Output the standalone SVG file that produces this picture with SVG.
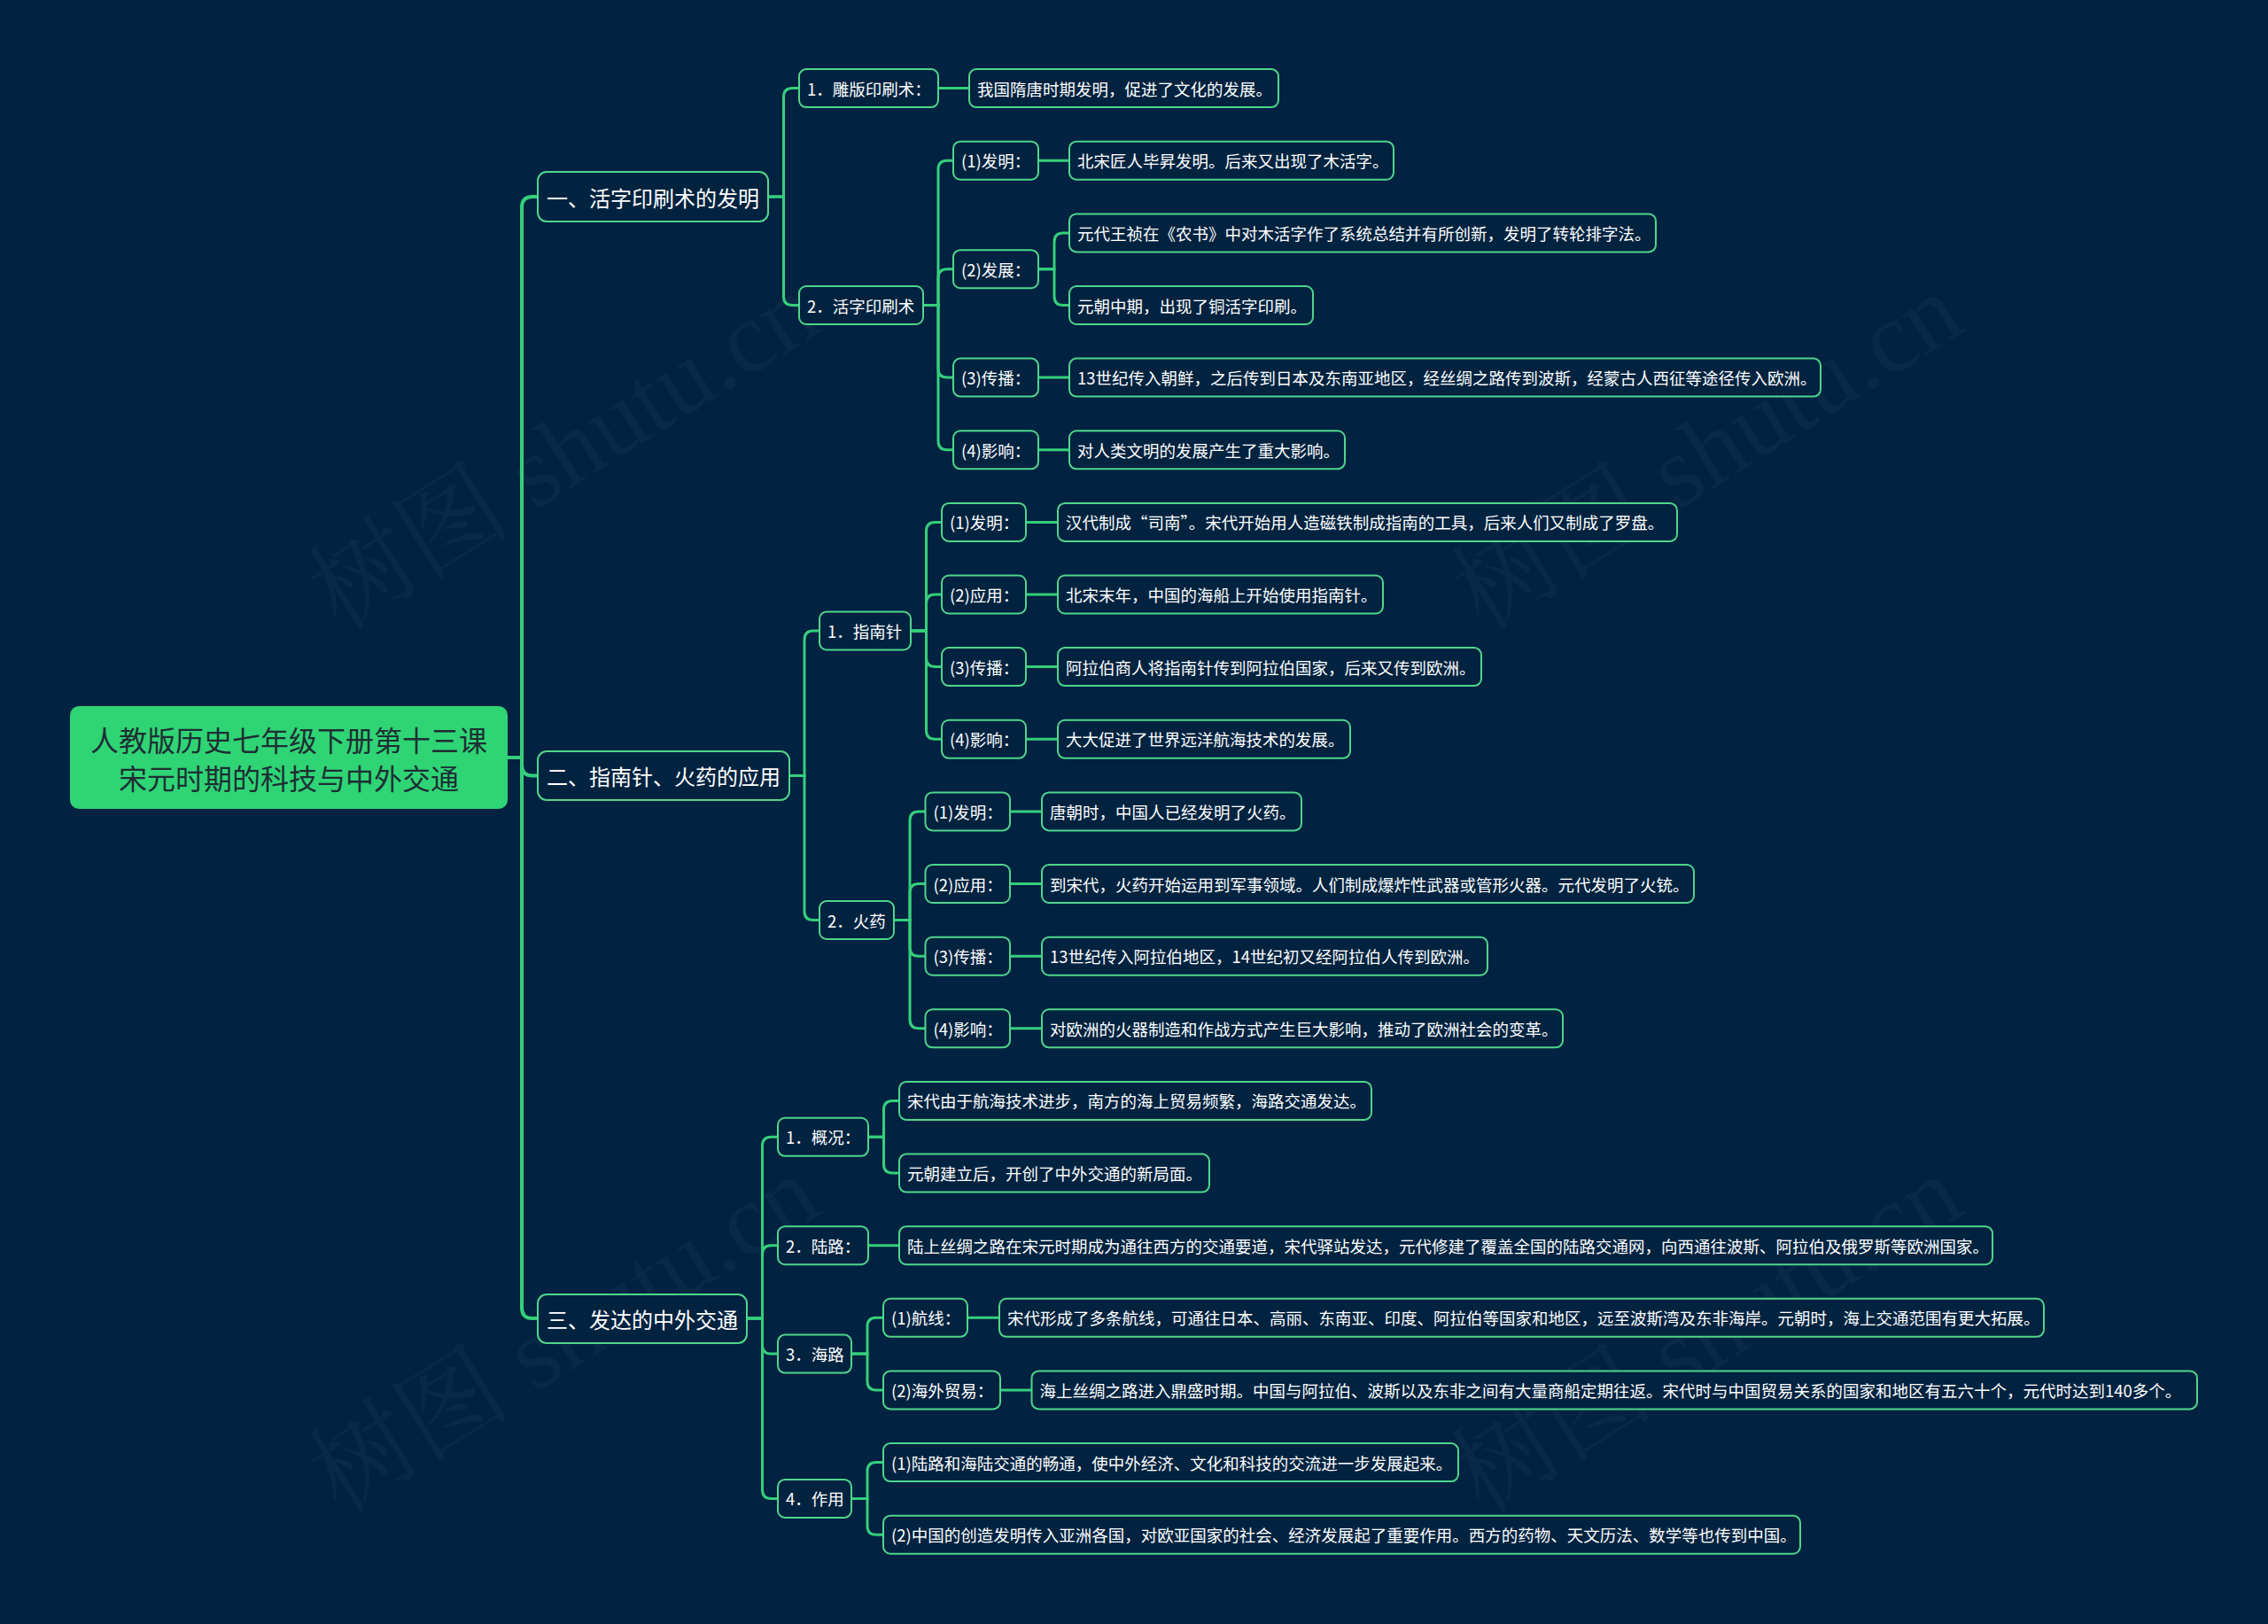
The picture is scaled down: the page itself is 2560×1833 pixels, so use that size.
<svg xmlns="http://www.w3.org/2000/svg" width="2560" height="1833" viewBox="0 0 2560 1833">
<style>
.bg{fill:#012240}
.wm{font-family:"Liberation Serif","Noto Serif CJK SC","Noto Sans CJK SC",serif;font-size:115px;fill:#ffffff;fill-opacity:0.035}
.root rect{fill:#2fd475;stroke:none}
.root text{font-family:"Noto Sans CJK SC","Noto Sans",sans-serif;font-size:32px;fill:#1e2f33;text-anchor:middle;dominant-baseline:central}
.l1 rect{fill:#022340;stroke:#4fd68b;stroke-width:2}
.l1 text{font-family:"Noto Sans CJK SC","Noto Sans",sans-serif;font-size:24px;fill:#ffffff;dominant-baseline:central}
.n rect{fill:#022340;stroke:#4fd68b;stroke-width:2}
.n text{font-family:"Noto Sans CJK SC","Noto Sans",sans-serif;font-size:18.5px;fill:#ffffff;dominant-baseline:central}
.c1{fill:none;stroke:#35cf7b;stroke-width:4}
.c2{fill:none;stroke:#35cf7b;stroke-width:3}
</style>
<rect class="bg" x="0" y="0" width="2560" height="1833"/>
<g id="watermark">
<text class="wm" x="637" y="510" text-anchor="middle" dominant-baseline="central" transform="rotate(-32 637 510)">树图 shutu.cn</text>
<text class="wm" x="1927" y="510" text-anchor="middle" dominant-baseline="central" transform="rotate(-32 1927 510)">树图 shutu.cn</text>
<text class="wm" x="637" y="1506" text-anchor="middle" dominant-baseline="central" transform="rotate(-32 637 1506)">树图 shutu.cn</text>
<text class="wm" x="1927" y="1506" text-anchor="middle" dominant-baseline="central" transform="rotate(-32 1927 1506)">树图 shutu.cn</text>
</g>
<g id="connectors">
<path class="c1" d="M573,855 H589 V234 Q589,222 601,222 H607"/>
<path class="c1" d="M573,855 H589 V863.5 Q589,875.5 601,875.5 H607"/>
<path class="c1" d="M573,855 H589 V1476 Q589,1488 601,1488 H607"/>
<path class="c2" d="M867,222 H884.5 V109.6 Q884.5,99.6 894.5,99.6 H902"/>
<path class="c2" d="M867,222 H884.5 V334.5 Q884.5,344.5 894.5,344.5 H902"/>
<path class="c2" d="M1059,99.6 H1094"/>
<path class="c2" d="M1042,344.5 H1059 V191.2 Q1059,181.2 1069,181.2 H1076"/>
<path class="c2" d="M1042,344.5 H1059 V313.7 Q1059,303.7 1069,303.7 H1076"/>
<path class="c2" d="M1042,344.5 H1059 V416.1 Q1059,426.1 1069,426.1 H1076"/>
<path class="c2" d="M1042,344.5 H1059 V497.8 Q1059,507.8 1069,507.8 H1076"/>
<path class="c2" d="M1172,181.2 H1207"/>
<path class="c2" d="M1172,303.7 H1190 V272.9 Q1190,262.9 1200,262.9 H1207"/>
<path class="c2" d="M1172,303.7 H1190 V334.5 Q1190,344.5 1200,344.5 H1207"/>
<path class="c2" d="M1172,426.1 H1207"/>
<path class="c2" d="M1172,507.8 H1207"/>
<path class="c2" d="M891,875.5 H908 V722 Q908,712 918,712 H925"/>
<path class="c2" d="M891,875.5 H908 V1028.5 Q908,1038.5 918,1038.5 H925"/>
<path class="c2" d="M1028,712 H1045.5 V599.4 Q1045.5,589.4 1055.5,589.4 H1063"/>
<path class="c2" d="M1028,712 H1045.5 V681 Q1045.5,671 1055.5,671 H1063"/>
<path class="c2" d="M1028,712 H1045.5 V742.6 Q1045.5,752.6 1055.5,752.6 H1063"/>
<path class="c2" d="M1028,712 H1045.5 V824.3 Q1045.5,834.3 1055.5,834.3 H1063"/>
<path class="c2" d="M1158,589.4 H1194"/>
<path class="c2" d="M1158,671 H1194"/>
<path class="c2" d="M1158,752.6 H1194"/>
<path class="c2" d="M1158,834.3 H1194"/>
<path class="c2" d="M1009,1038.5 H1027 V925.9 Q1027,915.9 1037,915.9 H1044.5"/>
<path class="c2" d="M1009,1038.5 H1027 V1007.5 Q1027,997.5 1037,997.5 H1044.5"/>
<path class="c2" d="M1009,1038.5 H1027 V1069.2 Q1027,1079.2 1037,1079.2 H1044.5"/>
<path class="c2" d="M1009,1038.5 H1027 V1150.8 Q1027,1160.8 1037,1160.8 H1044.5"/>
<path class="c2" d="M1140,915.9 H1176"/>
<path class="c2" d="M1140,997.5 H1176"/>
<path class="c2" d="M1140,1079.2 H1176"/>
<path class="c2" d="M1140,1160.8 H1176"/>
<path class="c2" d="M843,1488 H860.5 V1293.3 Q860.5,1283.3 870.5,1283.3 H878"/>
<path class="c2" d="M843,1488 H860.5 V1415.7 Q860.5,1405.7 870.5,1405.7 H878"/>
<path class="c2" d="M843,1488 H860.5 V1518.1 Q860.5,1528.1 870.5,1528.1 H878"/>
<path class="c2" d="M843,1488 H860.5 V1681.4 Q860.5,1691.4 870.5,1691.4 H878"/>
<path class="c2" d="M980,1283.3 H997.5 V1252.4 Q997.5,1242.4 1007.5,1242.4 H1015"/>
<path class="c2" d="M980,1283.3 H997.5 V1314.1 Q997.5,1324.1 1007.5,1324.1 H1015"/>
<path class="c2" d="M980,1405.7 H1015"/>
<path class="c2" d="M961,1528.1 H979 V1497.3 Q979,1487.3 989,1487.3 H997"/>
<path class="c2" d="M961,1528.1 H979 V1558.9 Q979,1568.9 989,1568.9 H997"/>
<path class="c2" d="M1092,1487.3 H1128"/>
<path class="c2" d="M1129,1568.9 H1164.5"/>
<path class="c2" d="M961,1691.4 H979 V1660.6 Q979,1650.6 989,1650.6 H997"/>
<path class="c2" d="M961,1691.4 H979 V1722.2 Q979,1732.2 989,1732.2 H997"/>
</g>
<g id="root" class="root"><rect x="79" y="797" width="494" height="116" rx="10"/><text x="326" y="834">人教版历史七年级下册第十三课</text><text x="326" y="877">宋元时期的科技与中外交通</text></g>
<g id="n1" class="l1"><rect x="607" y="194" width="260" height="56" rx="10"/><text x="617" y="222">一、活字印刷术的发明</text></g>
<g id="n2" class="l1"><rect x="607" y="848" width="284" height="55" rx="10"/><text x="617" y="875.5">二、指南针、火药的应用</text></g>
<g id="n3" class="l1"><rect x="607" y="1461" width="236" height="55" rx="10"/><text x="617" y="1488.5">三、发达的中外交通</text></g>
<g id="a1" class="n"><rect x="902" y="78.1" width="157" height="43" rx="8"/><text x="911" y="99.6">1．雕版印刷术：</text></g>
<g id="a1l" class="n"><rect x="1094" y="78.1" width="349" height="43" rx="8"/><text x="1103" y="99.6">我国隋唐时期发明，促进了文化的发展。</text></g>
<g id="a2" class="n"><rect x="902" y="323" width="140" height="43" rx="8"/><text x="911" y="344.5">2．活字印刷术</text></g>
<g id="b1" class="n"><rect x="1076" y="159.7" width="96" height="43" rx="8"/><text x="1085" y="181.2">(1)发明：</text></g>
<g id="b1l" class="n"><rect x="1207" y="159.7" width="366" height="43" rx="8"/><text x="1216" y="181.2">北宋匠人毕昇发明。后来又出现了木活字。</text></g>
<g id="b2" class="n"><rect x="1076" y="282.2" width="96" height="43" rx="8"/><text x="1085" y="303.7">(2)发展：</text></g>
<g id="b2l1" class="n"><rect x="1207" y="241.4" width="662" height="43" rx="8"/><text x="1216" y="262.9">元代王祯在《农书》中对木活字作了系统总结并有所创新，发明了转轮排字法。</text></g>
<g id="b2l2" class="n"><rect x="1207" y="323" width="275" height="43" rx="8"/><text x="1216" y="344.5">元朝中期，出现了铜活字印刷。</text></g>
<g id="b3" class="n"><rect x="1076" y="404.6" width="96" height="43" rx="8"/><text x="1085" y="426.1">(3)传播：</text></g>
<g id="b3l" class="n"><rect x="1207" y="404.6" width="848" height="43" rx="8"/><text x="1216" y="426.1">13世纪传入朝鲜，之后传到日本及东南亚地区，经丝绸之路传到波斯，经蒙古人西征等途径传入欧洲。</text></g>
<g id="b4" class="n"><rect x="1076" y="486.3" width="96" height="43" rx="8"/><text x="1085" y="507.8">(4)影响：</text></g>
<g id="b4l" class="n"><rect x="1207" y="486.3" width="311" height="43" rx="8"/><text x="1216" y="507.8">对人类文明的发展产生了重大影响。</text></g>
<g id="c1" class="n"><rect x="925" y="690.5" width="103" height="43" rx="8"/><text x="934" y="712">1．指南针</text></g>
<g id="d1" class="n"><rect x="1063" y="567.9" width="95" height="43" rx="8"/><text x="1072" y="589.4">(1)发明：</text></g>
<g id="d1l" class="n"><rect x="1194" y="567.9" width="699" height="43" rx="8"/><text x="1203" y="589.4">汉代制成“司南”。宋代开始用人造磁铁制成指南的工具，后来人们又制成了罗盘。</text></g>
<g id="d2" class="n"><rect x="1063" y="649.5" width="95" height="43" rx="8"/><text x="1072" y="671">(2)应用：</text></g>
<g id="d2l" class="n"><rect x="1194" y="649.5" width="367" height="43" rx="8"/><text x="1203" y="671">北宋末年，中国的海船上开始使用指南针。</text></g>
<g id="d3" class="n"><rect x="1063" y="731.1" width="95" height="43" rx="8"/><text x="1072" y="752.6">(3)传播：</text></g>
<g id="d3l" class="n"><rect x="1194" y="731.1" width="478" height="43" rx="8"/><text x="1203" y="752.6">阿拉伯商人将指南针传到阿拉伯国家，后来又传到欧洲。</text></g>
<g id="d4" class="n"><rect x="1063" y="812.8" width="95" height="43" rx="8"/><text x="1072" y="834.3">(4)影响：</text></g>
<g id="d4l" class="n"><rect x="1194" y="812.8" width="330" height="43" rx="8"/><text x="1203" y="834.3">大大促进了世界远洋航海技术的发展。</text></g>
<g id="c2" class="n"><rect x="925" y="1017" width="84" height="43" rx="8"/><text x="934" y="1038.5">2．火药</text></g>
<g id="e1" class="n"><rect x="1044.5" y="894.4" width="95.5" height="43" rx="8"/><text x="1053.5" y="915.9">(1)发明：</text></g>
<g id="e1l" class="n"><rect x="1176" y="894.4" width="293" height="43" rx="8"/><text x="1185" y="915.9">唐朝时，中国人已经发明了火药。</text></g>
<g id="e2" class="n"><rect x="1044.5" y="976" width="95.5" height="43" rx="8"/><text x="1053.5" y="997.5">(2)应用：</text></g>
<g id="e2l" class="n"><rect x="1176" y="976" width="736" height="43" rx="8"/><text x="1185" y="997.5">到宋代，火药开始运用到军事领域。人们制成爆炸性武器或管形火器。元代发明了火铳。</text></g>
<g id="e3" class="n"><rect x="1044.5" y="1057.7" width="95.5" height="43" rx="8"/><text x="1053.5" y="1079.2">(3)传播：</text></g>
<g id="e3l" class="n"><rect x="1176" y="1057.7" width="503" height="43" rx="8"/><text x="1185" y="1079.2">13世纪传入阿拉伯地区，14世纪初又经阿拉伯人传到欧洲。</text></g>
<g id="e4" class="n"><rect x="1044.5" y="1139.3" width="95.5" height="43" rx="8"/><text x="1053.5" y="1160.8">(4)影响：</text></g>
<g id="e4l" class="n"><rect x="1176" y="1139.3" width="588" height="43" rx="8"/><text x="1185" y="1160.8">对欧洲的火器制造和作战方式产生巨大影响，推动了欧洲社会的变革。</text></g>
<g id="f1" class="n"><rect x="878" y="1261.8" width="102" height="43" rx="8"/><text x="887" y="1283.3">1．概况：</text></g>
<g id="f1l1" class="n"><rect x="1015" y="1220.9" width="533" height="43" rx="8"/><text x="1024" y="1242.4">宋代由于航海技术进步，南方的海上贸易频繁，海路交通发达。</text></g>
<g id="f1l2" class="n"><rect x="1015" y="1302.6" width="350" height="43" rx="8"/><text x="1024" y="1324.1">元朝建立后，开创了中外交通的新局面。</text></g>
<g id="f2" class="n"><rect x="878" y="1384.2" width="102" height="43" rx="8"/><text x="887" y="1405.7">2．陆路：</text></g>
<g id="f2l" class="n"><rect x="1015" y="1384.2" width="1234" height="43" rx="8"/><text x="1024" y="1405.7">陆上丝绸之路在宋元时期成为通往西方的交通要道，宋代驿站发达，元代修建了覆盖全国的陆路交通网，向西通往波斯、阿拉伯及俄罗斯等欧洲国家。</text></g>
<g id="f3" class="n"><rect x="878" y="1506.6" width="83" height="43" rx="8"/><text x="887" y="1528.1">3．海路</text></g>
<g id="g1" class="n"><rect x="997" y="1465.8" width="95" height="43" rx="8"/><text x="1006" y="1487.3">(1)航线：</text></g>
<g id="g1l" class="n"><rect x="1128" y="1465.8" width="1179" height="43" rx="8"/><text x="1137" y="1487.3">宋代形成了多条航线，可通往日本、高丽、东南亚、印度、阿拉伯等国家和地区，远至波斯湾及东非海岸。元朝时，海上交通范围有更大拓展。</text></g>
<g id="g2" class="n"><rect x="997" y="1547.4" width="132" height="43" rx="8"/><text x="1006" y="1568.9">(2)海外贸易：</text></g>
<g id="g2l" class="n"><rect x="1164.5" y="1547.4" width="1315.5" height="43" rx="8"/><text x="1173.5" y="1568.9">海上丝绸之路进入鼎盛时期。中国与阿拉伯、波斯以及东非之间有大量商船定期往返。宋代时与中国贸易关系的国家和地区有五六十个，元代时达到140多个。</text></g>
<g id="f4" class="n"><rect x="878" y="1669.9" width="83" height="43" rx="8"/><text x="887" y="1691.4">4．作用</text></g>
<g id="h1" class="n"><rect x="997" y="1629.1" width="649" height="43" rx="8"/><text x="1006" y="1650.6">(1)陆路和海陆交通的畅通，使中外经济、文化和科技的交流进一步发展起来。</text></g>
<g id="h2" class="n"><rect x="997" y="1710.7" width="1035" height="43" rx="8"/><text x="1006" y="1732.2">(2)中国的创造发明传入亚洲各国，对欧亚国家的社会、经济发展起了重要作用。西方的药物、天文历法、数学等也传到中国。</text></g>
</svg>
